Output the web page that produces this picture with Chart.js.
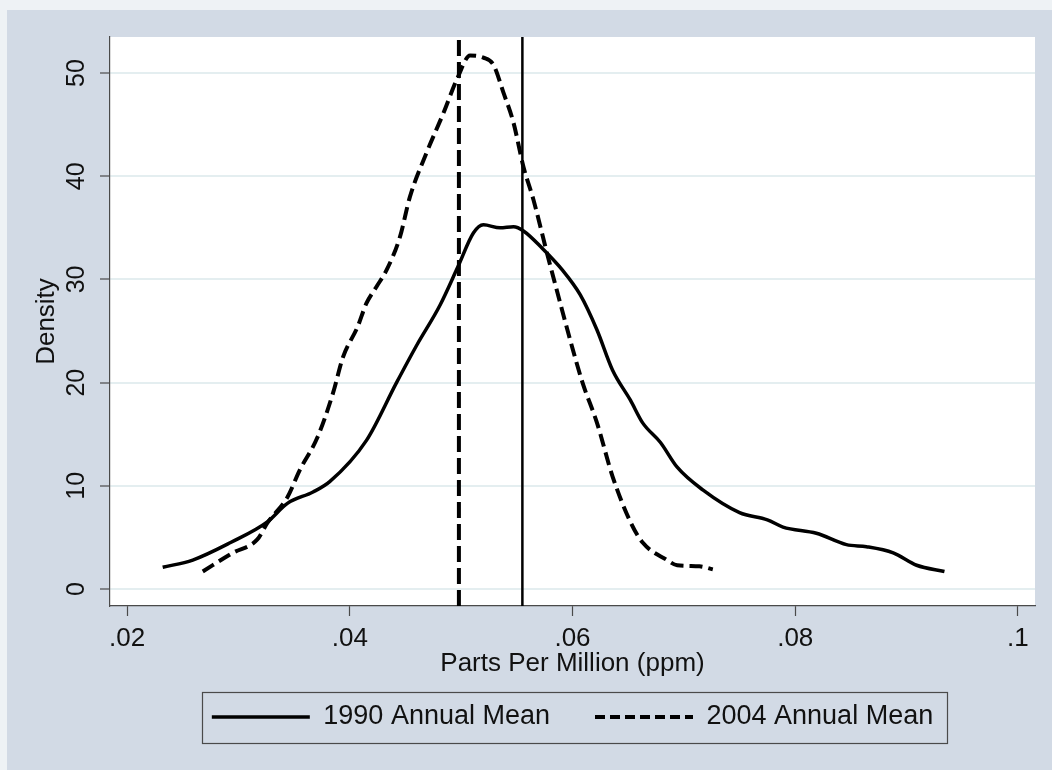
<!DOCTYPE html>
<html>
<head>
<meta charset="utf-8">
<script src="https://cdn.jsdelivr.net/npm/chart.js@4.4.1/dist/chart.umd.min.js"></script>
<style>
html, body { margin: 0; padding: 0; background: #fff; }
#wrap { width: 1052px; height: 770px; }
</style>
</head>
<body>
<div id="wrap"><canvas id="c" width="1052" height="770"></canvas></div>
<script>
// 1990 kernel density (ppm, density)
var x1990 = [0.0232, 0.0259, 0.0293, 0.0326, 0.0344, 0.0367, 0.0382, 0.0415, 0.0442, 0.0460, 0.0481, 0.0497,
	0.0511, 0.0520, 0.0535, 0.0547, 0.0556, 0.0573, 0.0591, 0.0607, 0.0622, 0.0636, 0.0652, 0.0663,
	0.0679, 0.0694, 0.0717, 0.0750, 0.0775, 0.0789, 0.0819, 0.0846, 0.0864, 0.0888, 0.0909, 0.0934];
var y1990 = [2.1, 2.8, 4.5, 6.5, 8.3, 9.4, 10.4, 14.4, 20.0, 23.6, 27.5, 31.2,
	34.5, 35.3, 35.0, 35.1, 34.7, 33.0, 30.9, 28.5, 25.1, 21.2, 18.3, 16.1,
	14.2, 11.8, 9.6, 7.4, 6.7, 6.0, 5.4, 4.3, 4.1, 3.5, 2.3, 1.7];

// 2004 kernel density
var x2004 = [0.0268, 0.0295, 0.0317, 0.0326, 0.0344, 0.0355, 0.0371, 0.0385, 0.0394, 0.0407, 0.0415, 0.0424,
	0.0433, 0.0445, 0.0454, 0.0469, 0.0484, 0.0497, 0.0508, 0.0520, 0.0529, 0.0538, 0.0547, 0.0556,
	0.0565, 0.0577, 0.0589, 0.0598, 0.0609, 0.0622, 0.0636, 0.0652, 0.0663, 0.0685, 0.0694, 0.0714, 0.0726];
var y2004 = [1.7, 3.5, 4.8, 6.4, 8.9, 11.5, 14.7, 19.0, 22.5, 25.4, 27.7, 29.3,
	30.9, 34.1, 38.0, 42.3, 46.1, 49.6, 51.7, 51.5, 50.8, 48.1, 45.2, 40.9,
	37.7, 32.6, 27.7, 24.1, 20.0, 16.1, 10.9, 6.5, 4.5, 2.8, 2.3, 2.2, 1.9];

// annual means (vertical lines)
var mean1990 = 0.0555;
var mean2004 = 0.0498;

var seriesLabels = ["1990 Annual Mean", "2004 Annual Mean"];
var xTicks = [0.02, 0.04, 0.06, 0.08, 0.1];
var yTicks = [0, 10, 20, 30, 40, 50];
var xMin = 0.01847, xMax = 0.10153;
var yMin = -1.65, yMax = 53.5;

var FONT = "'Liberation Sans', Arial, Helvetica, sans-serif";
var BG = "#d2dae5";
var GRID = "#e4eef0";
var AXIS = "#4a4a4a";

function pts(xs, ys) {
	var r = [];
	for(var i = 0; i < xs.length; i++) {
		r.push({ x: xs[i], y: ys[i] });
	}
	return r;
}

function fmtX(v) {
	return String(+v.toFixed(2)).replace(/^0/, "");
}

var bgPlugin = {
	id: "bg",
	beforeDraw: function(chart) {
		var ctx = chart.ctx;
		var a = chart.chartArea;
		ctx.save();
		ctx.fillStyle = "#eef2f5";
		ctx.fillRect(0, 0, chart.width, chart.height);
		ctx.fillStyle = BG;
		ctx.fillRect(7, 10, chart.width - 7, chart.height - 10);
		ctx.fillStyle = "#ffffff";
		ctx.fillRect(a.left, a.top, a.right - a.left, a.bottom - a.top);
		ctx.restore();
	},
	afterDraw: function(chart) {
		// frame round the legend, like Stata
		var hb = chart.legend.legendHitBoxes;
		if (!hb || !hb.length) return;
		var l = Infinity, r = -Infinity, t = Infinity, b = -Infinity;
		hb.forEach(function(h) {
			l = Math.min(l, h.left);
			r = Math.max(r, h.left + h.width);
			t = Math.min(t, h.top);
			b = Math.max(b, h.top + h.height);
		});
		var ctx = chart.ctx;
		ctx.save();
		ctx.strokeStyle = AXIS;
		ctx.lineWidth = 1.2;
		ctx.strokeRect(Math.round(l - 10) + 0.5, Math.round(t - 12) + 0.5, Math.round(r - l + 24), Math.round(b - t + 24));
		ctx.restore();
	}
};

var chart = new Chart(document.getElementById("c").getContext("2d"), {
	type: "line",
	data: {
		datasets: [
			{
				label: seriesLabels[0],
				data: pts(x1990, y1990),
				borderColor: "#000",
				borderWidth: 3.5,
				cubicInterpolationMode: "monotone",
				pointRadius: 0
			},
			{
				label: seriesLabels[1],
				data: pts(x2004, y2004),
				borderColor: "#000",
				borderWidth: 4,
				borderDash: [13, 6],
				cubicInterpolationMode: "monotone",
				pointRadius: 0
			},
			{
				label: "mean 1990",
				data: [{ x: mean1990, y: yMin }, { x: mean1990, y: yMax }],
				borderColor: "#000",
				borderWidth: 2.5,
				pointRadius: 0
			},
			{
				label: "mean 2004",
				data: [{ x: mean2004, y: yMin }, { x: mean2004, y: yMax }],
				borderColor: "#000",
				borderWidth: 4,
				borderDash: [16, 6],
				pointRadius: 0
			}
		]
	},
	options: {
		responsive: false,
		animation: false,
		layout: { padding: { left: 34, top: 37, right: 17, bottom: 29.5 } },
		scales: {
			x: {
				type: "linear",
				min: xMin,
				max: xMax,
				afterBuildTicks: function(s) { s.ticks = xTicks.map(function(v) { return { value: v }; }); },
				afterFit: function(s) { s.height = 52.5; },
				grid: { drawOnChartArea: false, drawTicks: true, tickLength: 10, tickColor: AXIS, tickWidth: 1.2 },
				border: { display: true, color: AXIS, width: 1.2 },
				ticks: {
					callback: function(v) { return fmtX(v); },
					color: "#111",
					padding: 7,
					maxRotation: 0,
					font: { family: FONT, size: 26 }
				},
				title: {
					display: true,
					text: "Parts Per Million (ppm)",
					color: "#111",
					// title sits under the axis box, in the legend's top padding
					padding: { top: 0, bottom: -21 },
					font: { family: FONT, size: 26 }
				}
			},
			y: {
				type: "linear",
				min: yMin,
				max: yMax,
				afterBuildTicks: function(s) { s.ticks = yTicks.map(function(v) { return { value: v }; }); },
				afterFit: function(s) { s.width = 76; },
				grid: { color: GRID, lineWidth: 2, drawTicks: true, tickLength: 10, tickColor: AXIS, tickWidth: 1.2 },
				border: { display: true, color: AXIS, width: 1.2 },
				ticks: {
					color: "#111",
					minRotation: 90,
					maxRotation: 90,
					crossAlign: "center",
					padding: 9,
					font: { family: FONT, size: 25 }
				},
				title: {
					display: true,
					text: "Density",
					color: "#111",
					padding: { top: -3, bottom: 0 },
					font: { family: FONT, size: 26 }
				}
			}
		},
		plugins: {
			tooltip: { enabled: false },
			legend: {
				position: "bottom",
				fullSize: false,
				labels: {
					usePointStyle: true,
					pointStyle: "line",
					pointStyleWidth: 98,
					padding: 45,
					color: "#111",
					font: { family: FONT, size: 27 },
					generateLabels: function(c) {
						var items = Chart.defaults.plugins.legend.labels.generateLabels(c);
						items = items.filter(function(it) { return it.datasetIndex < 2; });
						if (items[1]) items[1].lineDash = [10, 5];
						return items;
					}
				}
			}
		}
	},
	plugins: [bgPlugin]
});
</script>
</body>
</html>
